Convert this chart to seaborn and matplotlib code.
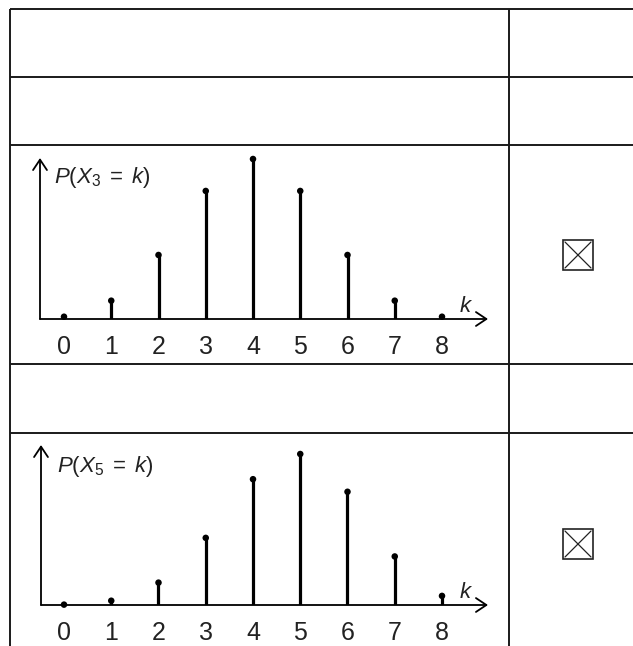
import numpy as np
import pandas as pd
import matplotlib
matplotlib.use('Agg')
import matplotlib.pyplot as plt
import matplotlib.patches as mpatches
import seaborn as sns

# values
k_values = [0, 1, 2, 3, 4, 5, 6, 7, 8]
p_x3 = [0.0039, 0.0313, 0.1094, 0.2188, 0.2734, 0.2188, 0.1094, 0.0313, 0.0039]
p_x5 = [0.0007, 0.0079, 0.0413, 0.1239, 0.2322, 0.2787, 0.2090, 0.0896, 0.0168]
tick_labels = [str(k) for k in k_values]

sns.set_style('white')
plt.rcParams['font.family'] = ['Liberation Sans', 'DejaVu Sans']
plt.rcParams['mathtext.fontset'] = 'custom'
plt.rcParams['mathtext.rm'] = 'Liberation Sans'
plt.rcParams['mathtext.it'] = 'Liberation Sans:italic'

W, H = 633, 646
fig = plt.figure(figsize=(W / 100, H / 100), dpi=100)

# background axes in pixel coordinates for the table grid
bg = fig.add_axes([0, 0, 1, 1])
bg.set_xlim(0, W)
bg.set_ylim(H, 0)
bg.axis('off')
line_kw = dict(colors='#1a1a1a', lw=1.4)
bg.hlines([9, 77, 145, 364, 433], 10, W, **line_kw)
bg.vlines([10, 509], 9, H, **line_kw)


def checkbox(x0, y0, size):
    bg.add_patch(mpatches.Rectangle((x0, y0), size, size, fill=False, ec='#222', lw=1.2))
    bg.plot([x0 + 2, x0 + size - 2], [y0 + 2, y0 + size - 2], color='#222', lw=0.9)
    bg.plot([x0 + 2, x0 + size - 2], [y0 + size - 2, y0 + 2], color='#222', lw=0.9)


def stem_chart(probs, sub, x_left, x_right, y_top, y_axis, y_peak, label_xy, k_xy):
    ax = fig.add_axes([x_left / W, 1 - y_axis / H, (x_right - x_left) / W, (y_axis - y_top) / H])
    # k=0 sits at x=64 px and k=8 at x=442 px
    step = (442 - 64) / 8
    ax.set_xlim((x_left - 64) / step, (x_right - 64) / step)
    scale = (y_axis - y_peak) / max(probs)
    ax.set_ylim(0, (y_axis - y_top) / scale)

    ax.vlines(k_values, 0, probs, colors='k', lw=2.3, zorder=3)
    sns.scatterplot(x=k_values, y=probs, ax=ax, color='k', s=22, edgecolor='none',
                    zorder=4, clip_on=False, legend=False)

    for s in ax.spines.values():
        s.set_visible(False)
    ax.set_xticks(k_values)
    ax.set_xticklabels(tick_labels)
    ax.set_yticks([])
    ax.tick_params(axis='x', length=8.5, width=1.3, pad=3, labelsize=18, color='k',
                   labelcolor='#222')
    arrow = dict(arrowstyle='->,head_length=0.75,head_width=0.5', lw=1.3, color='k',
                 shrinkA=0, shrinkB=0, mutation_scale=10)
    ax.annotate('', xy=(1, 0), xytext=(0, 0), xycoords='axes fraction', arrowprops=arrow)
    ax.annotate('', xy=(0, 1), xytext=(0, 0), xycoords='axes fraction', arrowprops=arrow)
    ax.patch.set_alpha(0)

    bg.text(label_xy[0], label_xy[1], r'$P\mathrm{(}X_{%s}\;=\;k\mathrm{)}$' % sub,
            fontsize=16, va='baseline', ha='left', color='#222')
    bg.text(k_xy[0], k_xy[1], r'$k$', fontsize=16, va='baseline', ha='center', color='#222')
    return ax


stem_chart(p_x3, '3', 40, 488, 158, 319, 159, (54, 183), (466, 312))
stem_chart(p_x5, '5', 41, 488, 445, 605, 454, (57, 472), (466, 598))

checkbox(563, 240, 30)
checkbox(563, 529, 30)

fig.savefig('out.png', dpi=100)
